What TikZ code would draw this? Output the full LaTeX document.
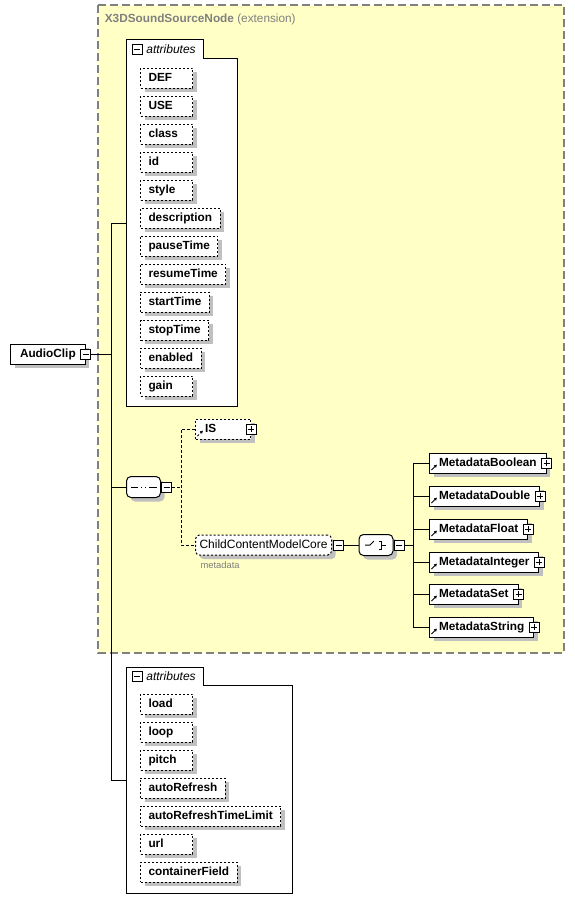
\documentclass[tikz,border=0pt]{standalone}
\usepackage{fontspec}
\setmainfont{Liberation Sans}
\usetikzlibrary{arrows.meta}

\definecolor{extfill}{RGB}{255,255,198}
\definecolor{extline}{RGB}{128,128,128}
\definecolor{shade}{RGB}{192,192,192}

\newcommand\fld[1]{\setbox0=\hbox{#1}\ifdim\wd0<36pt \makebox[36pt][l]{#1}\else #1\fi}

\tikzset{
  shadowed/.style={preaction={draw=none, fill=shade, transform canvas={shift={(4pt,-4pt)}}}},
  elem/.style={shape=rectangle, draw=black, fill=white, shadowed, minimum height=20pt, inner xsep=9.5pt, inner ysep=0pt, text height=9pt, text depth=2pt, font=\fontsize{11.8}{14}\selectfont\bfseries},
  attr/.style={elem, dash pattern=on 2pt off 2pt, inner xsep=8pt},
  ref/.style={path picture={\draw[line width=1pt, -{Latex[length=3pt, width=3.5pt]}] ([shift={(2pt,3pt)}]path picture bounding box.south west) -- ++(5.5pt,5.5pt);}},
  minusbox/.style={shape=rectangle, draw=black, fill=white, solid, minimum size=10pt, inner sep=0pt, path picture={\draw ([xshift=2pt]path picture bounding box.west) -- ([xshift=-2pt]path picture bounding box.east);}},
  plusbox/.style={minusbox, path picture={\draw ([xshift=2pt]path picture bounding box.west) -- ([xshift=-2pt]path picture bounding box.east) ([yshift=-2pt]path picture bounding box.north) -- ([yshift=2pt]path picture bounding box.south);}},
  model/.style={shape=rectangle, rounded corners=4.5pt, draw=black, fill=white, shadowed, minimum width=34pt, minimum height=21pt, inner sep=0pt},
  optional/.style={dash pattern=on 3pt off 2pt},
  tab/.style={font=\fontsize{12}{14}\selectfont\itshape}
}

\begin{document}
\begin{tikzpicture}[x=1pt, y=-1pt, line width=1pt]
\useasboundingbox (0,0) rectangle (575,913);
\draw[fill=extfill, draw=extline, line width=1.3pt, dash pattern=on 8pt off 4pt] (98,5) rectangle (564,653);
\node[anchor=west, text=extline, font=\fontsize{11.8}{14}\selectfont](title) at (101,19) {\textbf{X3DSoundSourceNode} (extension)};

\draw[fill=white] (126,39) -- (203,39) -- (203,58) -- (237,58) -- (237,406) -- (126,406) -- cycle;
\node[minusbox, label={[tab]right:attributes}](t1) at (137,49) {};
\node[attr, anchor=west](a0) at (140,78) {\fld{DEF}};
\node[attr, anchor=west](a1) at (140,106) {\fld{USE}};
\node[attr, anchor=west](a2) at (140,134) {\fld{class}};
\node[attr, anchor=west](a3) at (140,162) {\fld{id}};
\node[attr, anchor=west](a4) at (140,190) {\fld{style}};
\node[attr, anchor=west](a5) at (140,218) {\fld{description}};
\node[attr, anchor=west](a6) at (140,246) {\fld{pauseTime}};
\node[attr, anchor=west](a7) at (140,274) {\fld{resumeTime}};
\node[attr, anchor=west](a8) at (140,302) {\fld{startTime}};
\node[attr, anchor=west](a9) at (140,330) {\fld{stopTime}};
\node[attr, anchor=west](a10) at (140,358) {\fld{enabled}};
\node[attr, anchor=west](a11) at (140,386) {\fld{gain}};

\node[elem, anchor=west](clip) at (10,354) {AudioClip};
\node[minusbox](clipx) at (clip.east) {};
\coordinate (att1) at (126,223);
\coordinate (att2) at (126,780);
\coordinate (spine) at (111,354);
\draw (clipx.east) -- (spine);
\draw (att1) -- (att1 -| spine) -- (att2 -| spine) -- (att2);

\node[model, path picture={\draw[sharp corners] ([xshift=-13pt]path picture bounding box.center) -- ([xshift=13pt]path picture bounding box.center); \foreach \d in {-4,0,4} \fill[sharp corners] ([xshift=\d pt]path picture bounding box.center) +(-1.7pt,-1.7pt) rectangle +(1.7pt,1.7pt);}](seq) at (143.5,487) {};
\node[minusbox, anchor=west](seqx) at (seq.east) {};
\draw (seq.west) -- (seq.west -| spine);
\coordinate (bus) at (181,487);
\draw[optional] (seqx.east) -- (bus);

\node[elem, ref, dash pattern=on 2pt off 2pt, anchor=west](is) at (195,429) {\fld{IS}};
\node[plusbox](isx) at (is.east) {};
\node[model, rounded corners=4pt, dash pattern=on 2pt off 2pt, minimum height=20pt, inner xsep=4pt, text height=9pt, text depth=2pt, font=\fontsize{12}{14}\selectfont, anchor=west, label={[anchor=north west, inner sep=0pt, xshift=5pt, yshift=-6pt, text=extline, font=\fontsize{9.4}{11}\selectfont]south west:metadata}](ccmc) at (195,545) {ChildContentModelCore};
\node[minusbox, anchor=west](ccmcx) at ([xshift=1pt]ccmc.east) {};
\draw[optional] (is.west) -- (is.west -| bus) -- (ccmc.west -| bus) -- (ccmc.west);

\node[model, path picture={\draw[sharp corners] ([xshift=-11pt]path picture bounding box.center) -- ++(5pt,0) -- ++(4pt,4pt); \foreach \d in {-4,0,4} \fill[sharp corners] ([shift={(1pt,\d pt)}]path picture bounding box.center) +(-1.4pt,-1.4pt) rectangle +(1.4pt,1.4pt); \draw[sharp corners] ([shift={(3pt,4pt)}]path picture bounding box.center) -- ++(2.5pt,0) -- ++(0,-8pt) -- ++(-2.5pt,0) ++(2.5pt,4pt) -- ++(4pt,0);}](choice) at (376,545) {};
\node[minusbox, anchor=west](choicex) at (choice.east) {};
\draw (ccmcx.east) -- (choice.west);
\coordinate (cbus) at (413,545);
\draw (choicex.east) -- (cbus);

\node[elem, ref, anchor=west](m0) at (429,463) {MetadataBoolean};
\node[plusbox](m0x) at (m0.east) {};
\node[elem, ref, anchor=west](m1) at (429,496) {MetadataDouble};
\node[plusbox](m1x) at (m1.east) {};
\node[elem, ref, anchor=west](m2) at (429,529) {MetadataFloat};
\node[plusbox](m2x) at (m2.east) {};
\node[elem, ref, anchor=west](m3) at (429,562) {MetadataInteger};
\node[plusbox](m3x) at (m3.east) {};
\node[elem, ref, anchor=west](m4) at (429,594) {MetadataSet};
\node[plusbox](m4x) at (m4.east) {};
\node[elem, ref, anchor=west](m5) at (429,627) {MetadataString};
\node[plusbox](m5x) at (m5.east) {};
\draw (m0.west) -- (m0.west -| cbus) -- (m5.west -| cbus) -- (m5.west);
\draw (m1.west) -- (m1.west -| cbus) (m2.west) -- (m2.west -| cbus) (m3.west) -- (m3.west -| cbus) (m4.west) -- (m4.west -| cbus);

\draw[fill=white] (126,667) -- (203,667) -- (203,685) -- (292,685) -- (292,893) -- (126,893) -- cycle;
\node[minusbox, label={[tab]right:attributes}](t2) at (137,676) {};
\node[attr, anchor=west](b0) at (140,704) {\fld{load}};
\node[attr, anchor=west](b1) at (140,732) {\fld{loop}};
\node[attr, anchor=west](b2) at (140,760) {\fld{pitch}};
\node[attr, anchor=west](b3) at (140,788) {\fld{autoRefresh}};
\node[attr, anchor=west](b4) at (140,816) {\fld{autoRefreshTimeLimit}};
\node[attr, anchor=west](b5) at (140,844) {\fld{url}};
\node[attr, anchor=west](b6) at (140,872) {\fld{containerField}};
\end{tikzpicture}
\end{document}
